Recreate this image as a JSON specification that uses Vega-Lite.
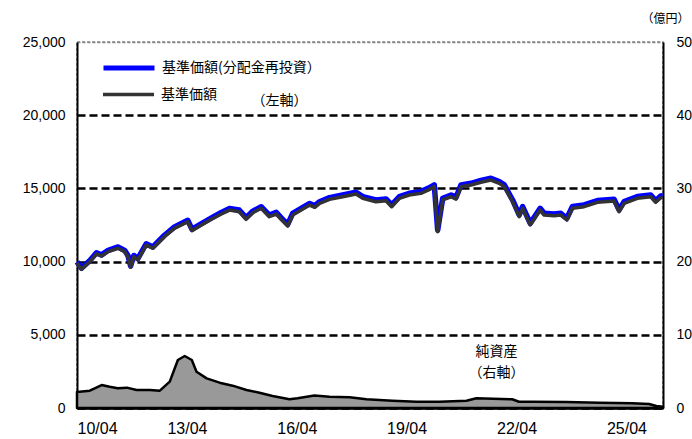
{
  "$schema": "https://vega.github.io/schema/vega-lite/v6.json",
  "width": 586,
  "height": 366,
  "autosize": {"type": "none"},
  "padding": {"left": 77, "top": 42, "right": 29, "bottom": 31},
  "config": {
    "view": {"stroke": "#888888", "strokeWidth": 1.5, "strokeDash": [3, 2]},
    "font": "Liberation Sans"
  },
  "datasets": {
    "nav": [
      {"date": "2010-04-01", "nav": 9900, "navr": 9980},
      {"date": "2010-05-15", "nav": 9470, "navr": 9550},
      {"date": "2010-08-07", "nav": 9990, "navr": 10070},
      {"date": "2010-10-12", "nav": 10520, "navr": 10600},
      {"date": "2010-12-02", "nav": 10380, "navr": 10460},
      {"date": "2011-02-06", "nav": 10680, "navr": 10770},
      {"date": "2011-05-15", "nav": 10910, "navr": 11000},
      {"date": "2011-07-20", "nav": 10680, "navr": 10770},
      {"date": "2011-08-22", "nav": 10330, "navr": 10420},
      {"date": "2011-09-18", "nav": 9610, "navr": 9700},
      {"date": "2011-10-20", "nav": 10330, "navr": 10420},
      {"date": "2011-11-28", "nav": 10110, "navr": 10200},
      {"date": "2012-02-20", "nav": 11130, "navr": 11220},
      {"date": "2012-04-26", "nav": 10910, "navr": 11000},
      {"date": "2012-08-20", "nav": 11700, "navr": 11800},
      {"date": "2012-11-28", "nav": 12270, "navr": 12370},
      {"date": "2013-04-10", "nav": 12720, "navr": 12820},
      {"date": "2013-05-22", "nav": 12110, "navr": 12210},
      {"date": "2013-08-07", "nav": 12430, "navr": 12530},
      {"date": "2013-12-02", "nav": 12890, "navr": 12990},
      {"date": "2014-03-10", "nav": 13250, "navr": 13360},
      {"date": "2014-05-31", "nav": 13520, "navr": 13630},
      {"date": "2014-09-05", "nav": 13410, "navr": 13520},
      {"date": "2014-11-12", "nav": 12890, "navr": 13000},
      {"date": "2015-01-19", "nav": 13340, "navr": 13450},
      {"date": "2015-04-12", "nav": 13640, "navr": 13750},
      {"date": "2015-07-02", "nav": 13070, "navr": 13180},
      {"date": "2015-09-09", "nav": 13250, "navr": 13360},
      {"date": "2015-10-27", "nav": 12890, "navr": 13000},
      {"date": "2016-01-01", "nav": 12430, "navr": 12540},
      {"date": "2016-02-20", "nav": 13180, "navr": 13290},
      {"date": "2016-05-14", "nav": 13520, "navr": 13630},
      {"date": "2016-08-08", "nav": 13860, "navr": 13970},
      {"date": "2016-09-27", "nav": 13710, "navr": 13820},
      {"date": "2016-11-14", "nav": 13980, "navr": 14090},
      {"date": "2017-02-21", "nav": 14250, "navr": 14370},
      {"date": "2017-07-02", "nav": 14430, "navr": 14550},
      {"date": "2017-11-13", "nav": 14620, "navr": 14740},
      {"date": "2018-01-19", "nav": 14320, "navr": 14440},
      {"date": "2018-05-30", "nav": 14090, "navr": 14210},
      {"date": "2018-09-08", "nav": 14160, "navr": 14280},
      {"date": "2018-11-03", "nav": 13750, "navr": 13870},
      {"date": "2019-01-19", "nav": 14320, "navr": 14440},
      {"date": "2019-04-27", "nav": 14550, "navr": 14670},
      {"date": "2019-08-21", "nav": 14660, "navr": 14780},
      {"date": "2019-11-06", "nav": 14900, "navr": 15020},
      {"date": "2020-01-02", "nav": 15120, "navr": 15240},
      {"date": "2020-02-05", "nav": 12040, "navr": 12160},
      {"date": "2020-03-26", "nav": 14210, "navr": 14330},
      {"date": "2020-06-17", "nav": 14430, "navr": 14550},
      {"date": "2020-08-06", "nav": 14270, "navr": 14390},
      {"date": "2020-09-25", "nav": 15120, "navr": 15240},
      {"date": "2021-01-02", "nav": 15230, "navr": 15350},
      {"date": "2021-04-11", "nav": 15420, "navr": 15540},
      {"date": "2021-07-20", "nav": 15570, "navr": 15690},
      {"date": "2021-10-11", "nav": 15350, "navr": 15470},
      {"date": "2021-11-30", "nav": 15120, "navr": 15240},
      {"date": "2022-02-21", "nav": 14090, "navr": 14210},
      {"date": "2022-04-28", "nav": 13070, "navr": 13190},
      {"date": "2022-06-01", "nav": 13640, "navr": 13760},
      {"date": "2022-08-16", "nav": 12500, "navr": 12620},
      {"date": "2022-11-23", "nav": 13520, "navr": 13640},
      {"date": "2023-01-02", "nav": 13180, "navr": 13300},
      {"date": "2023-04-11", "nav": 13130, "navr": 13250},
      {"date": "2023-06-17", "nav": 13180, "navr": 13300},
      {"date": "2023-08-16", "nav": 12840, "navr": 12960},
      {"date": "2023-10-11", "nav": 13640, "navr": 13760},
      {"date": "2024-02-04", "nav": 13750, "navr": 13870},
      {"date": "2024-06-16", "nav": 14050, "navr": 14170},
      {"date": "2024-11-29", "nav": 14140, "navr": 14260},
      {"date": "2025-01-18", "nav": 13410, "navr": 13530},
      {"date": "2025-03-09", "nav": 13980, "navr": 14100},
      {"date": "2025-07-19", "nav": 14320, "navr": 14440},
      {"date": "2025-11-30", "nav": 14430, "navr": 14550},
      {"date": "2026-01-19", "nav": 14050, "navr": 14170},
      {"date": "2026-03-09", "nav": 14360, "navr": 14480},
      {"date": "2026-03-31", "nav": 14380, "navr": 14500}
    ],
    "aum": [
      {"date": "2010-04-01", "aum": 22},
      {"date": "2010-08-07", "aum": 23.7},
      {"date": "2010-12-03", "aum": 31.4},
      {"date": "2011-02-21", "aum": 29},
      {"date": "2011-05-12", "aum": 27},
      {"date": "2011-08-11", "aum": 27.8},
      {"date": "2011-11-17", "aum": 24.6},
      {"date": "2012-03-26", "aum": 24.6},
      {"date": "2012-07-05", "aum": 23.7},
      {"date": "2012-10-12", "aum": 36},
      {"date": "2013-01-01", "aum": 65.6},
      {"date": "2013-03-10", "aum": 71},
      {"date": "2013-05-20", "aum": 65.6},
      {"date": "2013-07-06", "aum": 49.6},
      {"date": "2013-10-15", "aum": 40.5},
      {"date": "2014-02-21", "aum": 34.6},
      {"date": "2014-07-01", "aum": 30.5},
      {"date": "2014-11-16", "aum": 24.6},
      {"date": "2015-03-26", "aum": 20.9},
      {"date": "2015-08-04", "aum": 16.4},
      {"date": "2016-01-19", "aum": 11.9},
      {"date": "2016-04-08", "aum": 13.2},
      {"date": "2016-09-24", "aum": 17},
      {"date": "2017-02-21", "aum": 15.5},
      {"date": "2017-09-09", "aum": 14.6},
      {"date": "2018-02-25", "aum": 11.9},
      {"date": "2018-11-10", "aum": 10},
      {"date": "2019-07-08", "aum": 8.6},
      {"date": "2020-02-24", "aum": 8.6},
      {"date": "2020-11-18", "aum": 10},
      {"date": "2021-02-25", "aum": 13.2},
      {"date": "2022-02-17", "aum": 11.9},
      {"date": "2022-04-26", "aum": 8.6},
      {"date": "2022-09-04", "aum": 8.6},
      {"date": "2023-08-09", "aum": 8.2},
      {"date": "2024-07-05", "aum": 7.3},
      {"date": "2025-05-28", "aum": 6.4},
      {"date": "2025-11-13", "aum": 5.5},
      {"date": "2026-01-25", "aum": 2.7},
      {"date": "2026-03-31", "aum": 1.8}
    ],
    "notes": [
      {"date": "2015-10-12", "v": 20970, "label": "（左軸）"},
      {"date": "2021-09-13", "v": 3825, "label": "純資産"},
      {"date": "2021-09-13", "v": 2390, "label": "（右軸）"}
    ]
  },
  "encoding": {
    "x": {
      "field": "date",
      "type": "temporal",
      "scale": {"domain": [{"year": 2010, "month": 4, "date": 1}, {"year": 2026, "month": 4, "date": 1}]},
      "axis": {
        "title": null,
        "values": [
          {"year": 2010, "month": 4, "date": 1},
          {"year": 2013, "month": 4, "date": 1},
          {"year": 2016, "month": 4, "date": 1},
          {"year": 2019, "month": 4, "date": 1},
          {"year": 2022, "month": 4, "date": 1},
          {"year": 2025, "month": 4, "date": 1}
        ],
        "format": "%y/%m",
        "labelFont": "Liberation Sans",
        "labelFontSize": 16,
        "labelColor": "black",
        "labelPadding": 17,
        "tickSize": -5,
        "tickColor": "black",
        "tickWidth": 1,
        "domainColor": "black",
        "domainWidth": 2.5,
        "grid": false
      }
    }
  },
  "layer": [
    {
      "data": {"name": "aum"},
      "mark": {"type": "area", "fill": "#999999", "stroke": "black", "strokeWidth": 2.5, "strokeJoin": "round"},
      "encoding": {
        "y": {
          "field": "aum",
          "type": "quantitative",
          "scale": {"domain": [0, 500], "nice": false},
          "axis": {
            "orient": "right",
            "values": [0, 100, 200, 300, 400, 500],
            "title": "（億円）",
            "titleAngle": 0,
            "titleAlign": "left",
            "titleBaseline": "middle",
            "titleX": -22,
            "titleY": -24,
            "titleFont": "Noto Sans CJK JP",
            "titleFontSize": 12,
            "titleFontWeight": "normal",
            "labelFont": "Liberation Sans",
            "labelFontSize": 14,
            "labelColor": "black",
            "labelPadding": 13,
            "ticks": false,
            "domainColor": "black",
            "domainWidth": 2,
            "grid": false
          }
        }
      }
    },
    {
      "data": {"name": "nav"},
      "transform": [{"fold": ["navr", "nav"], "as": ["series", "value"]}],
      "mark": {"type": "line", "strokeJoin": "round"},
      "encoding": {
        "y": {
          "field": "value",
          "type": "quantitative",
          "scale": {"domain": [0, 25000], "nice": false},
          "axis": {
            "orient": "left",
            "values": [0, 5000, 10000, 15000, 20000, 25000],
            "format": ",d",
            "title": null,
            "labelFont": "Liberation Sans",
            "labelFontSize": 14,
            "labelColor": "black",
            "labelPadding": 12,
            "ticks": false,
            "domainColor": "black",
            "domainWidth": 2,
            "grid": true,
            "gridColor": {"condition": {"test": "datum.value >= 25000", "value": "#888888"}, "value": "black"},
            "gridWidth": {"condition": {"test": "datum.value >= 25000", "value": 1.5}, "value": 2.5},
            "gridDash": {"condition": {"test": "datum.value >= 25000", "value": [3, 2]}, "value": [8, 4]}
          }
        },
        "color": {
          "field": "series",
          "type": "nominal",
          "scale": {"domain": ["navr", "nav"], "range": ["#0000FF", "#333333"]},
          "legend": {
            "orient": "none",
            "legendX": 24,
            "legendY": -2,
            "values": ["navr"],
            "title": null,
            "padding": 0,
            "symbolType": "stroke",
            "symbolSize": 2600,
            "symbolStrokeWidth": 5,
            "labelFont": "Noto Sans CJK JP",
            "labelFontSize": 14,
            "labelColor": "black",
            "labelOffset": 5,
            "labelExpr": "'基準価額(分配金再投資）'"
          }
        },
        "strokeWidth": {
          "field": "series",
          "type": "nominal",
          "scale": {"domain": ["nav", "navr"], "range": [3.5, 5.5]},
          "legend": {
            "orient": "none",
            "legendX": 24,
            "legendY": 25,
            "values": ["nav"],
            "title": null,
            "padding": 0,
            "symbolType": "stroke",
            "symbolSize": 2600,
            "symbolStrokeColor": "#333333",
            "symbolStrokeWidth": 3,
            "labelFont": "Noto Sans CJK JP",
            "labelFontSize": 14,
            "labelColor": "black",
            "labelOffset": 5,
            "labelExpr": "'基準価額'",
            "encode": {"symbols": {"update": {"stroke": {"value": "#333333"}, "strokeWidth": {"value": 3}}}}
          }
        }
      }
    },
    {
      "data": {"name": "notes"},
      "mark": {"type": "text", "font": "Noto Sans CJK JP", "fontSize": 14, "color": "black", "align": "center", "baseline": "middle"},
      "encoding": {
        "y": {"field": "v", "type": "quantitative", "scale": {"domain": [0, 25000], "nice": false}, "axis": null},
        "text": {"field": "label"}
      }
    }
  ],
  "resolve": {"scale": {"y": "independent"}}
}
